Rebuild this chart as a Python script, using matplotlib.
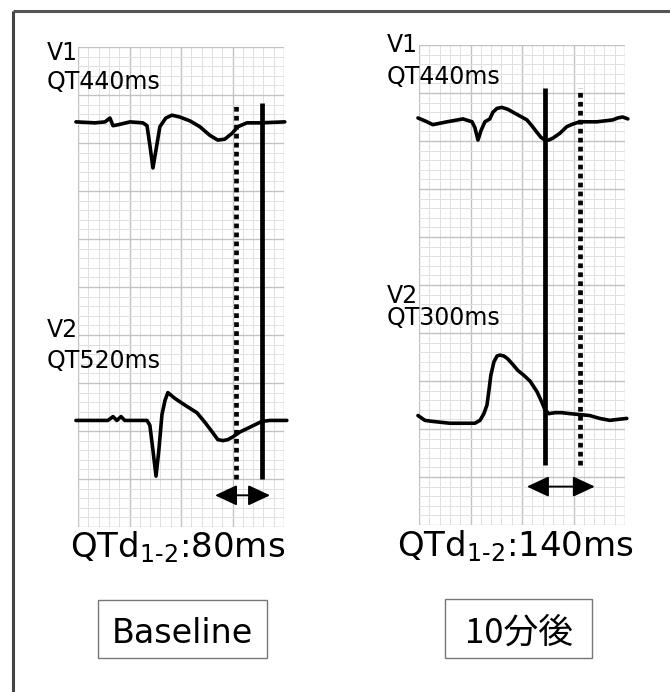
import matplotlib
matplotlib.use("Agg")
import matplotlib.pyplot as plt
from matplotlib.patches import Rectangle

plt.rcParams['font.family'] = ['DejaVu Sans', 'Noto Sans CJK JP']
plt.rcParams['mathtext.default'] = 'regular'

# ECG traces, time in ms, amplitude in mV (grid: 40 ms / 0.1 mV per small box)
base_v1_t = [-8, 66, 105, 124, 136, 155, 202, 252, 268, 279, 291, 303, 318, 341, 365, 396,
             435, 473, 512, 543, 570, 598, 621, 656, 706, 803]
base_v1_mv = [4.22, 4.21, 4.22, 4.26, 4.18, 4.19, 4.22, 4.21, 4.18, 3.98, 3.74, 3.93, 4.17, 4.26,
              4.29, 4.27, 4.23, 4.17, 4.08, 4.03, 4.04, 4.10, 4.17, 4.21, 4.21, 4.22]
base_v2_t = [-8, 66, 116, 136, 151, 167, 182, 268, 279, 291, 303, 314, 326, 338, 349, 376, 415,
             462, 493, 524, 543, 563, 582, 602, 629, 668, 714, 745, 811]
base_v2_mv = [1.11, 1.11, 1.11, 1.15, 1.11, 1.15, 1.11, 1.11, 1.06, 0.80, 0.53, 0.80, 1.17, 1.32,
              1.40, 1.34, 1.27, 1.19, 1.09, 0.98, 0.91, 0.90, 0.91, 0.94, 0.99, 1.04, 1.10, 1.11, 1.11]

after_v1_t = [-4, 23, 54, 109, 171, 206, 217, 229, 241, 256, 275, 287, 303, 322, 345, 365, 392,
              419, 438, 458, 473, 489, 504, 520, 547, 574, 601, 625, 663, 691, 722, 753, 772, 791, 811]
after_v1_mv = [4.24, 4.21, 4.17, 4.20, 4.23, 4.20, 4.14, 4.01, 4.11, 4.20, 4.23, 4.30, 4.34, 4.35,
               4.33, 4.30, 4.26, 4.22, 4.16, 4.09, 4.04, 4.01, 4.01, 4.03, 4.08, 4.15, 4.18, 4.20,
               4.20, 4.20, 4.21, 4.22, 4.24, 4.25, 4.23]
after_v2_t = [-4, 23, 50, 120, 217, 237, 252, 264, 272, 279, 291, 303, 314, 330, 345, 365, 384,
              407, 431, 458, 477, 489, 504, 528, 555, 586, 625, 663, 702, 741, 772, 807]
after_v2_mv = [1.14, 1.09, 1.08, 1.06, 1.06, 1.09, 1.16, 1.25, 1.41, 1.56, 1.70, 1.76, 1.77, 1.76,
               1.73, 1.67, 1.61, 1.56, 1.50, 1.39, 1.28, 1.20, 1.16, 1.17, 1.17, 1.16, 1.15, 1.14,
               1.11, 1.09, 1.10, 1.11]

# QT end markers (ms) and their vertical extent (mV)
base_dotted = 613
base_solid = 714
base_marker_span = (0.50, 4.42)
base_arrow = (532, 746, 0.33)
after_solid = 489
after_dotted = 625
after_marker_span = (0.62, 4.55)
after_arrow = (419, 683, 0.40)

lead_names = ["V1", "V2"]
base_qt = ["QT440ms", "QT520ms"]
after_qt = ["QT440ms", "QT300ms"]
base_qtd = "80ms"
after_qtd = "140ms"
box_labels = ["Baseline", "10分後"]

W, H = 670, 692
fig = plt.figure(figsize=(W / 100, H / 100), dpi=100)


def px_axes(x0, y0, x1, y1):
    return fig.add_axes([x0 / W, 1 - y1 / H, (x1 - x0) / W, (y1 - y0) / H])


def ecg_panel(ax):
    ax.set_xlim(0, 800)
    ax.set_ylim(0, 5)
    ax.set_xticks(range(0, 801, 200))
    ax.set_xticks(range(0, 801, 40), minor=True)
    ax.set_yticks([i * 0.5 for i in range(11)])
    ax.set_yticks([i * 0.1 for i in range(51)], minor=True)
    ax.grid(which='minor', color='#e0e0e0', lw=0.7)
    ax.grid(which='major', color='#c2c2c2', lw=1.0)
    ax.tick_params(which='both', length=0, labelbottom=False, labelleft=False)
    for s in ax.spines.values():
        s.set_visible(False)
    ax.set_axisbelow(True)


trace_kw = dict(color='black', lw=2.6, solid_joinstyle='round', solid_capstyle='round', clip_on=False)
solid_kw = dict(color='black', lw=3.4, solid_capstyle='butt')
dotted_kw = dict(color='black', lw=3.4, dashes=(1, 0.9), dash_capstyle='butt')
arrow_kw = dict(arrowstyle='<|-|>,head_length=0.9,head_width=0.42', color='black', lw=1.4,
                mutation_scale=15, shrinkA=0, shrinkB=0)

ax1 = px_axes(78, 47, 284, 527)
ecg_panel(ax1)
ax1.plot(base_v1_t, base_v1_mv, **trace_kw)
ax1.plot(base_v2_t, base_v2_mv, **trace_kw)
ax1.plot([base_dotted] * 2, base_marker_span, **dotted_kw)
ax1.plot([base_solid] * 2, base_marker_span, **solid_kw)
ax1.annotate('', xy=(base_arrow[0], base_arrow[2]), xytext=(base_arrow[1], base_arrow[2]),
             arrowprops=arrow_kw, annotation_clip=False)

ax2 = px_axes(419, 45, 625, 525)
ecg_panel(ax2)
ax2.plot(after_v1_t, after_v1_mv, **trace_kw)
ax2.plot(after_v2_t, after_v2_mv, **trace_kw)
ax2.plot([after_solid] * 2, after_marker_span, **solid_kw)
ax2.plot([after_dotted] * 2, after_marker_span, **dotted_kw)
ax2.annotate('', xy=(after_arrow[0], after_arrow[2]), xytext=(after_arrow[1], after_arrow[2]),
             arrowprops=arrow_kw, annotation_clip=False)

# overlay in pixel coordinates for frame and labels
ov = fig.add_axes([0, 0, 1, 1], facecolor='none')
ov.set_xlim(0, W)
ov.set_ylim(H, 0)
ov.axis('off')
ov.plot([13, W], [11, 11], color='#555555', lw=2.2, solid_capstyle='butt')
ov.plot([13, 13], [11, H], color='#444444', lw=2.2, solid_capstyle='butt')

small = 17
ov.text(47, 60, lead_names[0], fontsize=small, va='baseline')
ov.text(47, 89, base_qt[0], fontsize=small, va='baseline')
ov.text(47, 337, lead_names[1], fontsize=small, va='baseline')
ov.text(47, 368, base_qt[1], fontsize=small, va='baseline')
ov.text(387, 52, lead_names[0], fontsize=small, va='baseline')
ov.text(387, 84, after_qt[0], fontsize=small, va='baseline')
ov.text(387, 303, lead_names[1], fontsize=small, va='baseline')
ov.text(387, 325, after_qt[1], fontsize=small, va='baseline')

ov.text(70, 557, 'QTd$_{1\u20102}$:' + base_qtd, fontsize=24.5, va='baseline')
ov.text(397, 556, 'QTd$_{1\u20102}$:' + after_qtd, fontsize=24.5, va='baseline')

ov.add_patch(Rectangle((98, 600), 169, 58, fill=False, ec='#777777', lw=1.0))
ov.add_patch(Rectangle((445, 599), 147, 59, fill=False, ec='#777777', lw=1.0))
ov.text(182.5, 643, box_labels[0], fontsize=24, ha='center', va='baseline')
ov.text(518.5, 643, box_labels[1], fontsize=25, ha='center', va='baseline',
        family=['Noto Sans CJK JP', 'DejaVu Sans'])

fig.savefig('out.png', dpi=100, facecolor='white')
